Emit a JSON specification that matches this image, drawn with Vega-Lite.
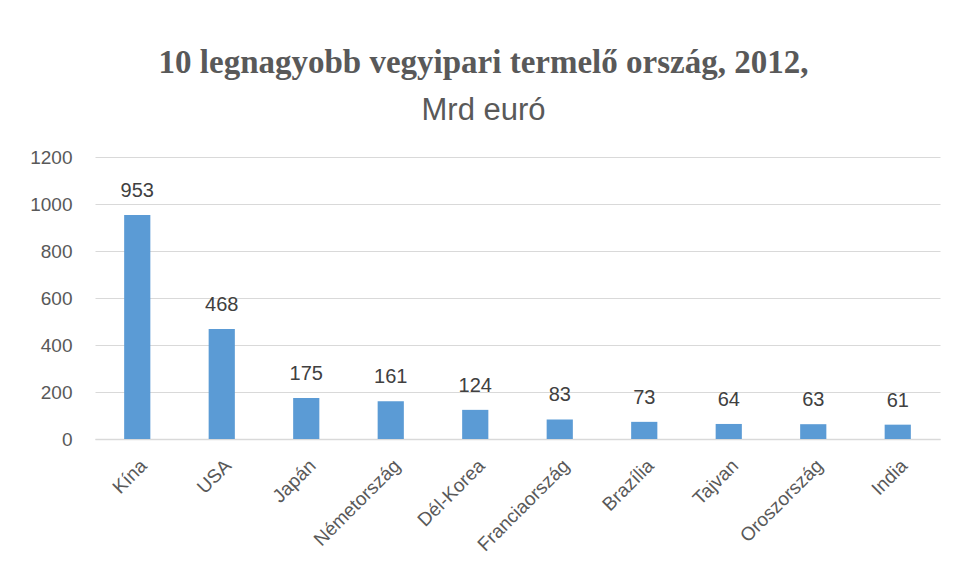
{
  "$schema": "https://vega.github.io/schema/vega-lite/v6.json",
  "width": 845,
  "height": 282,
  "autosize": {"type": "none"},
  "padding": {"left": 95, "top": 157, "right": 16, "bottom": 140},
  "background": "white",
  "title": {
    "text": "10 legnagyobb vegyipari termelő ország, 2012,",
    "subtitle": "Mrd euró",
    "anchor": "middle",
    "dx": -34,
    "font": "Liberation Serif",
    "fontSize": 33,
    "fontWeight": "bold",
    "color": "#595959",
    "subtitleFont": "Liberation Sans",
    "subtitleFontSize": 31,
    "subtitleColor": "#595959",
    "subtitlePadding": 16,
    "offset": 22
  },
  "data": {
    "values": [
      {"orszag": "Kína", "ertek": 953},
      {"orszag": "USA", "ertek": 468},
      {"orszag": "Japán", "ertek": 175},
      {"orszag": "Németország", "ertek": 161},
      {"orszag": "Dél-Korea", "ertek": 124},
      {"orszag": "Franciaország", "ertek": 83},
      {"orszag": "Brazília", "ertek": 73},
      {"orszag": "Tajvan", "ertek": 64},
      {"orszag": "Oroszország", "ertek": 63},
      {"orszag": "India", "ertek": 61}
    ]
  },
  "encoding": {
    "x": {
      "field": "orszag",
      "type": "nominal",
      "sort": null,
      "scale": {"paddingInner": 0.69, "paddingOuter": 0.345},
      "axis": {
        "title": null,
        "labelAngle": -45,
        "labelFont": "Liberation Sans",
        "labelFontSize": 19,
        "labelColor": "#595959",
        "labelPadding": 17,
        "ticks": false,
        "domainColor": "#d9d9d9",
        "domainWidth": 1.5
      }
    },
    "y": {
      "field": "ertek",
      "type": "quantitative",
      "scale": {"domain": [0, 1200]},
      "axis": {
        "title": null,
        "format": "d",
        "values": [0, 200, 400, 600, 800, 1000, 1200],
        "domain": false,
        "ticks": false,
        "labelFont": "Liberation Sans",
        "labelFontSize": 19,
        "labelColor": "#595959",
        "labelPadding": 23,
        "gridColor": "#d9d9d9",
        "gridWidth": 1.2
      }
    }
  },
  "layer": [
    {"mark": {"type": "bar", "color": "#5b9bd5"}},
    {
      "mark": {
        "type": "text",
        "baseline": "bottom",
        "dy": -14,
        "font": "Liberation Sans",
        "fontSize": 20,
        "color": "#404040"
      },
      "encoding": {"text": {"field": "ertek", "type": "quantitative"}}
    }
  ],
  "config": {"view": {"stroke": null}}
}
